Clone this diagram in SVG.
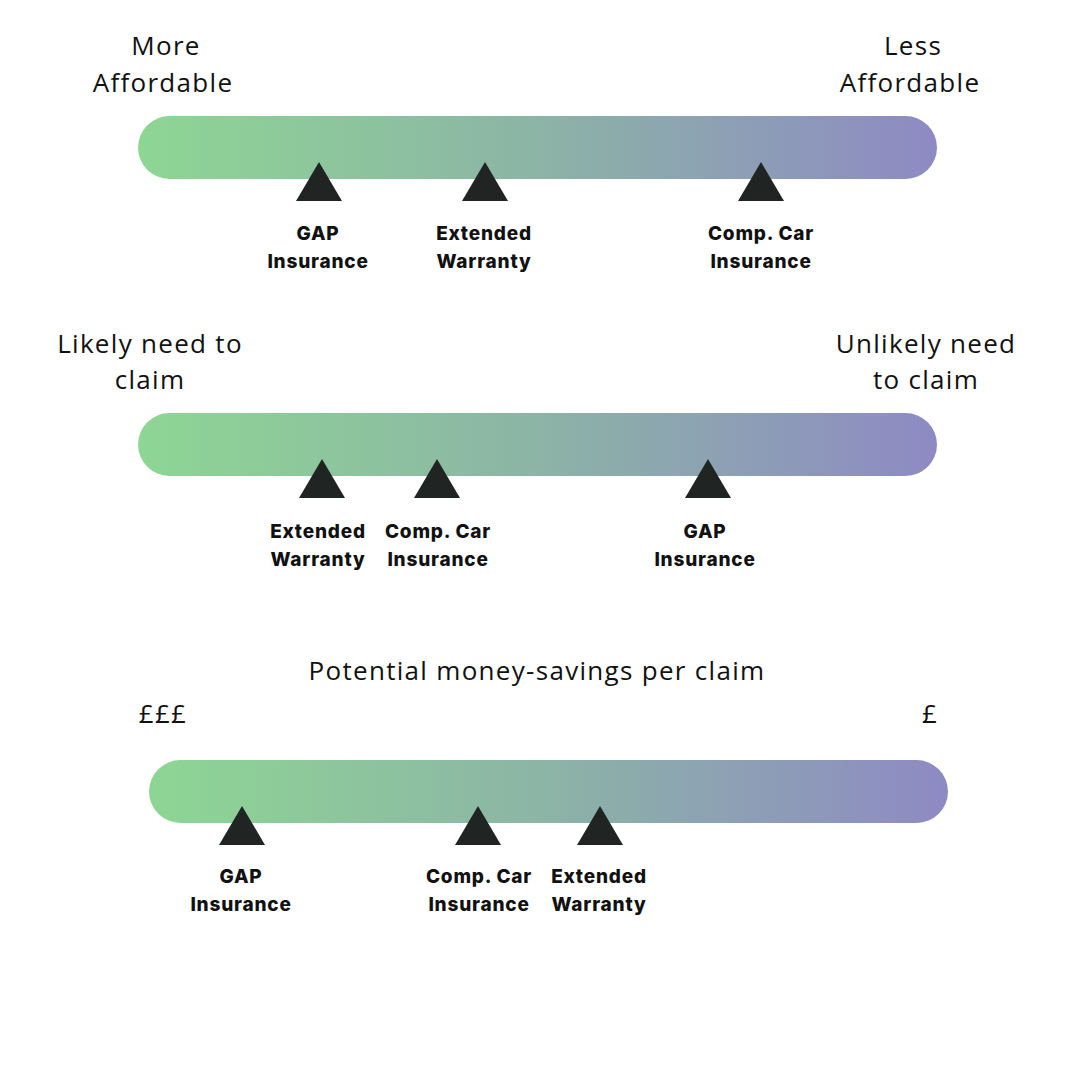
<svg xmlns="http://www.w3.org/2000/svg" width="1080" height="1080" viewBox="0 0 1080 1080">
  <defs>
    <linearGradient id="barGrad" x1="0" y1="0" x2="1" y2="0">
      <stop offset="0" stop-color="#8ED694"/>
      <stop offset="0.5" stop-color="#8CB4A6"/>
      <stop offset="1" stop-color="#8E8AC4"/>
    </linearGradient>
    <style>
      .bar { fill: url(#barGrad); }
      .tri { fill: #202422; }
      .axis { font-family: "Open Sans", "Noto Sans", sans-serif; font-size: 26px; letter-spacing: 1.3px; fill: #111111; text-anchor: middle; }
      .lbl { font-family: "Inter", "Open Sans", sans-serif; font-weight: 800; font-size: 19px; letter-spacing: 0.8px; fill: #111111; text-anchor: middle; }
    </style>
  </defs>
  <rect width="1080" height="1080" fill="#FFFFFF"/>

  <!-- Scale 1: Affordability -->
  <g id="scale-affordability">
    <text class="axis" x="166" y="55">More</text>
    <text class="axis" x="163" y="92">Affordable</text>
    <text class="axis" x="913" y="55">Less</text>
    <text class="axis" x="910" y="92">Affordable</text>
    <rect class="bar" x="138" y="116" width="799" height="63" rx="31.5"/>
  </g>
  <g id="a-gap">
    <polygon class="tri" points="319,162 342,201 296,201"/>
    <text class="lbl" x="318" y="240">GAP</text>
    <text class="lbl" x="318" y="268">Insurance</text>
  </g>
  <g id="a-warranty">
    <polygon class="tri" points="485,162 508,201 462,201"/>
    <text class="lbl" x="484" y="240">Extended</text>
    <text class="lbl" x="484" y="268">Warranty</text>
  </g>
  <g id="a-comp">
    <polygon class="tri" points="761,162 784,201 738,201"/>
    <text class="lbl" x="761" y="240">Comp. Car</text>
    <text class="lbl" x="761" y="268">Insurance</text>
  </g>

  <!-- Scale 2: Likelihood of claim -->
  <g id="scale-claim">
    <text class="axis" x="150" y="353">Likely need to</text>
    <text class="axis" x="150" y="389">claim</text>
    <text class="axis" x="926" y="353">Unlikely need</text>
    <text class="axis" x="926" y="389">to claim</text>
    <rect class="bar" x="138" y="413" width="799" height="63" rx="31.5"/>
  </g>
  <g id="c-warranty">
    <polygon class="tri" points="322,459 345,498 299,498"/>
    <text class="lbl" x="318" y="538">Extended</text>
    <text class="lbl" x="318" y="566">Warranty</text>
  </g>
  <g id="c-comp">
    <polygon class="tri" points="437,459 460,498 414,498"/>
    <text class="lbl" x="438" y="538">Comp. Car</text>
    <text class="lbl" x="438" y="566">Insurance</text>
  </g>
  <g id="c-gap">
    <polygon class="tri" points="708,459 731,498 685,498"/>
    <text class="lbl" x="705" y="538">GAP</text>
    <text class="lbl" x="705" y="566">Insurance</text>
  </g>

  <!-- Scale 3: Potential money-savings -->
  <g id="scale-savings">
    <text class="axis" x="537" y="680">Potential money-savings per claim</text>
    <text class="axis" x="163" y="723">£££</text>
    <text class="axis" x="930" y="723">£</text>
    <rect class="bar" x="149" y="760" width="799" height="63" rx="31.5"/>
  </g>
  <g id="s-gap">
    <polygon class="tri" points="242,806 265,845 219,845"/>
    <text class="lbl" x="241" y="883">GAP</text>
    <text class="lbl" x="241" y="911">Insurance</text>
  </g>
  <g id="s-comp">
    <polygon class="tri" points="478,806 501,845 455,845"/>
    <text class="lbl" x="479" y="883">Comp. Car</text>
    <text class="lbl" x="479" y="911">Insurance</text>
  </g>
  <g id="s-warranty">
    <polygon class="tri" points="600,806 623,845 577,845"/>
    <text class="lbl" x="599" y="883">Extended</text>
    <text class="lbl" x="599" y="911">Warranty</text>
  </g>
</svg>
